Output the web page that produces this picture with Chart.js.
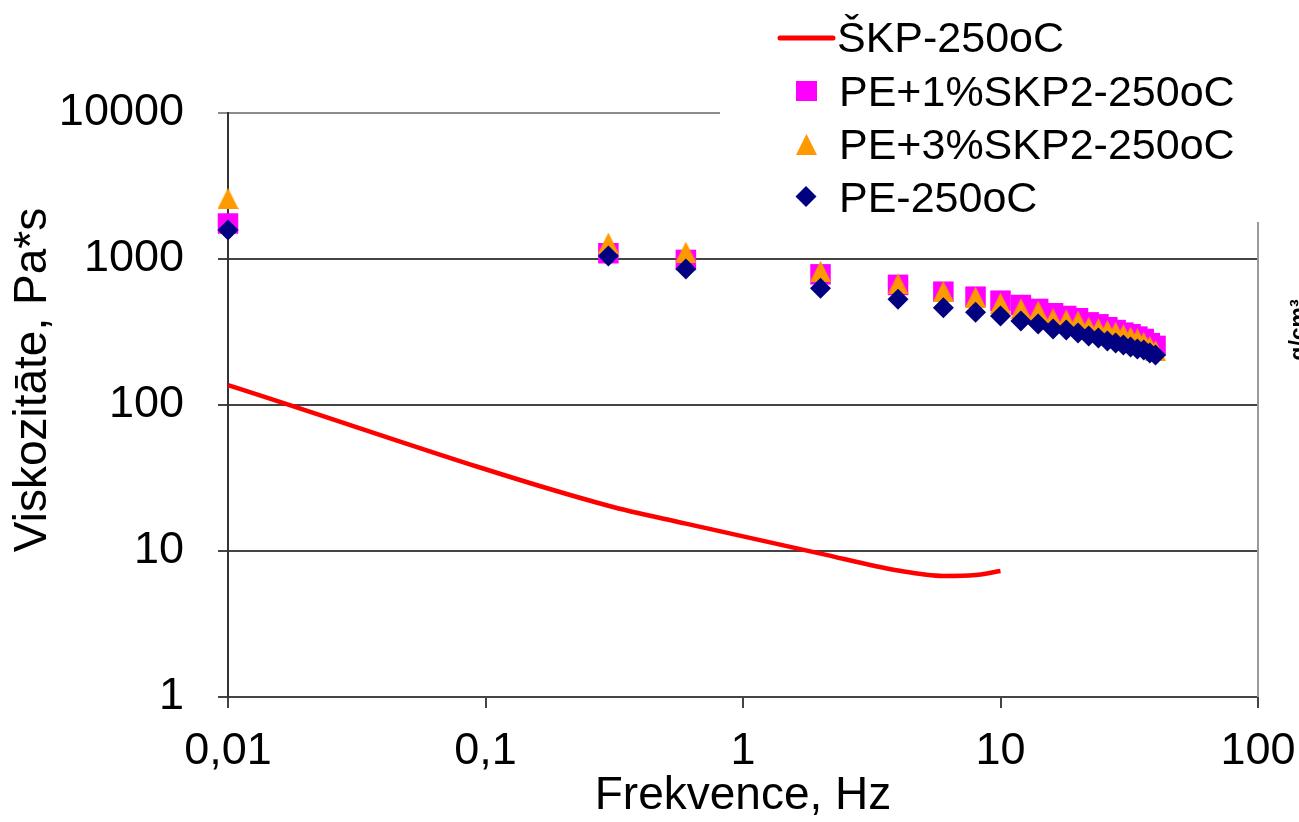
<!DOCTYPE html>
<html>
<head>
<meta charset="utf-8">
<title>Viskozita - frekvence</title>
<script src="https://cdn.jsdelivr.net/npm/chart.js@4.4.0/dist/chart.umd.min.js"></script>
<style>
    html, body { margin: 0; padding: 0; background: #fff; }
    #wrap { width: 1299px; height: 822px; }
</style>
</head>
<body>
<div id="wrap"><canvas id="chart" width="1299" height="822"></canvas></div>
<script>
const FONT = '"Liberation Sans", Arial, sans-serif';

// ŠKP line (Hz, Pa*s)
const skpFreq = [0.01, 0.3, 0.6, 2, 4, 6, 8, 10];
const skpVisc = [137, 20.4, 15.4, 9.6, 7.35, 6.75, 6.85, 7.3];

// PE series, common frequencies (Hz)
const peFreq = [0.01, 0.3, 0.6, 2, 4, 6, 8, 10, 12, 14, 16, 18, 20, 22, 24, 26, 28, 30, 32, 34, 36, 38, 40];
const pe1Visc = [1750, 1095, 985, 785, 665, 597, 552, 518, 484, 455, 425, 407, 393, 368, 357, 341, 326, 313, 305, 294, 283, 265, 254];
const pe3Visc = [2600, 1285, 1115, 825, 675, 600, 548, 498, 456, 439, 390, 383, 375, 341, 334, 324, 315, 303, 291, 284, 269, 252, 236];
const peVisc = [1580, 1050, 855, 630, 530, 463, 432, 407, 376, 359, 332, 327, 311, 297, 288, 274, 266, 258, 250, 242, 238, 227, 220];

const seriesNames = ['ŠKP-250oC', 'PE+1%SKP2-250oC', 'PE+3%SKP2-250oC', 'PE-250oC'];

const xTicks = [0.01, 0.1, 1, 10, 100];
const xTickLabels = ['0,01', '0,1', '1', '10', '100'];
const yTicks = [1, 10, 100, 1000, 10000];
const yTickLabels = ['1', '10', '100', '1000', '10000'];

function toPoints(xs, ys) {
    return xs.map((x, i) => ({ x: x, y: ys[i] }));
}

// Excel-style triangle marker (as wide as it is tall)
function triangleMarker(size, color) {
    const c = document.createElement('canvas');
    c.width = size;
    c.height = size;
    const g = c.getContext('2d');
    g.fillStyle = color;
    g.beginPath();
    g.moveTo(size / 2, 0);
    g.lineTo(size, size);
    g.lineTo(0, size);
    g.closePath();
    g.fill();
    return c;
}

const triMarker = triangleMarker(21, '#FF9900');

// right border, legend box, y title and the cut-off label at the edge
const overlay = {
    id: 'overlay',
    beforeDatasetsDraw(chart) {
        const ctx = chart.ctx;
        const a = chart.chartArea;
        ctx.save();
        ctx.strokeStyle = '#999';
        ctx.lineWidth = 2;
        ctx.beginPath();
        ctx.moveTo(a.right, a.top);
        ctx.lineTo(a.right, a.bottom);
        ctx.stroke();
        ctx.restore();
    },
    afterDraw(chart) {
        const ctx = chart.ctx;
        ctx.save();

        // legend
        ctx.fillStyle = '#fff';
        ctx.fillRect(720, 0, 579, 222);
        ctx.font = '43px ' + FONT;
        ctx.textAlign = 'left';
        ctx.textBaseline = 'alphabetic';
        ctx.fillStyle = '#000';

        ctx.strokeStyle = '#FF0000';
        ctx.lineWidth = 5;
        ctx.lineCap = 'round';
        ctx.beginPath();
        ctx.moveTo(780, 38);
        ctx.lineTo(833, 38);
        ctx.stroke();
        ctx.fillText(seriesNames[0], 837, 52);

        ctx.fillStyle = '#FF00FF';
        ctx.fillRect(796, 81, 21, 20);
        ctx.fillStyle = '#000';
        ctx.fillText(seriesNames[1], 839, 106);

        ctx.drawImage(triMarker, 796, 134);
        ctx.fillText(seriesNames[2], 839, 159);

        ctx.fillStyle = '#000080';
        ctx.beginPath();
        ctx.moveTo(806, 186);
        ctx.lineTo(816.5, 196.5);
        ctx.lineTo(806, 207);
        ctx.lineTo(795.5, 196.5);
        ctx.closePath();
        ctx.fill();
        ctx.fillStyle = '#000';
        ctx.fillText(seriesNames[3], 839, 212);

        // y axis title
        ctx.save();
        ctx.translate(33, 380);
        ctx.rotate(-Math.PI / 2);
        ctx.textAlign = 'center';
        ctx.textBaseline = 'middle';
        ctx.font = '46px ' + FONT;
        ctx.fillText('Viskozitāte, Pa*s', 0, 0);
        ctx.restore();

        // secondary axis title, mostly outside the picture
        ctx.save();
        ctx.translate(1306, 330);
        ctx.rotate(-Math.PI / 2);
        ctx.textAlign = 'center';
        ctx.textBaseline = 'alphabetic';
        ctx.font = 'bold 23px ' + FONT;
        ctx.fillText('g/cm³', 0, 0);
        ctx.restore();

        ctx.restore();
    }
};

const ctx = document.getElementById('chart');

new Chart(ctx, {
    type: 'scatter',
    data: {
        datasets: [
            {
                label: seriesNames[0],
                data: toPoints(skpFreq, skpVisc),
                showLine: true,
                borderColor: '#FF0000',
                borderWidth: 4.5,
                pointRadius: 0,
                cubicInterpolationMode: 'monotone',
                fill: false,
                clip: false,
                order: 4
            },
            {
                label: seriesNames[1],
                data: toPoints(peFreq, pe1Visc),
                pointStyle: 'rect',
                pointRadius: 14.5,
                pointBorderWidth: 0,
                backgroundColor: '#FF00FF',
                borderColor: '#FF00FF',
                clip: false,
                order: 3
            },
            {
                label: seriesNames[2],
                data: toPoints(peFreq, pe3Visc),
                pointStyle: triMarker,
                pointRadius: 11,
                pointBorderWidth: 0,
                backgroundColor: '#FF9900',
                borderColor: '#FF9900',
                clip: false,
                order: 2
            },
            {
                label: seriesNames[3],
                data: toPoints(peFreq, peVisc),
                pointStyle: 'rectRot',
                pointRadius: 10.5,
                pointBorderWidth: 0,
                backgroundColor: '#000080',
                borderColor: '#000080',
                clip: false,
                order: 1
            }
        ]
    },
    options: {
        responsive: false,
        animation: false,
        events: [],
        layout: {
            padding: { top: 113, right: 41, bottom: 0, left: 0 }
        },
        plugins: {
            legend: { display: false },
            tooltip: { enabled: false }
        },
        scales: {
            x: {
                type: 'logarithmic',
                min: 0.01,
                max: 100,
                afterFit: function(scale) {
                    scale.height = 125;
                    scale.paddingLeft = 0;
                    scale.paddingRight = 0;
                },
                afterBuildTicks: function(scale) {
                    scale.ticks = xTicks.map(v => ({ value: v }));
                },
                ticks: {
                    autoSkip: false,
                    maxRotation: 0,
                    padding: 17,
                    color: '#000',
                    font: { family: FONT, size: 45 },
                    callback: function(value) {
                        const i = xTicks.indexOf(value);
                        return i >= 0 ? xTickLabels[i] : '';
                    }
                },
                grid: {
                    drawOnChartArea: false,
                    drawTicks: true,
                    tickLength: 11,
                    color: '#444',
                    lineWidth: 2
                },
                border: { display: true, color: '#444', width: 2 },
                title: {
                    display: true,
                    text: 'Frekvence, Hz',
                    color: '#000',
                    font: { family: FONT, size: 46, lineHeight: 1.1 },
                    padding: 0
                }
            },
            y: {
                type: 'logarithmic',
                min: 1,
                max: 10000,
                afterFit: function(scale) {
                    scale.width = 228;
                    scale.paddingTop = 0;
                    scale.paddingBottom = 0;
                },
                afterBuildTicks: function(scale) {
                    scale.ticks = yTicks.map(v => ({ value: v }));
                },
                ticks: {
                    autoSkip: false,
                    padding: 34,
                    color: '#000',
                    font: { family: FONT, size: 45 },
                    callback: function(value) {
                        const i = yTicks.indexOf(value);
                        return i >= 0 ? yTickLabels[i] : '';
                    }
                },
                grid: {
                    drawTicks: true,
                    tickLength: 10,
                    lineWidth: 2,
                    color: function(c) {
                        return c.tick && c.tick.value === 10000 ? '#8c8c8c' : '#444';
                    }
                },
                border: { display: true, color: '#333', width: 2 }
            }
        }
    },
    plugins: [overlay]
});
</script>
</body>
</html>
